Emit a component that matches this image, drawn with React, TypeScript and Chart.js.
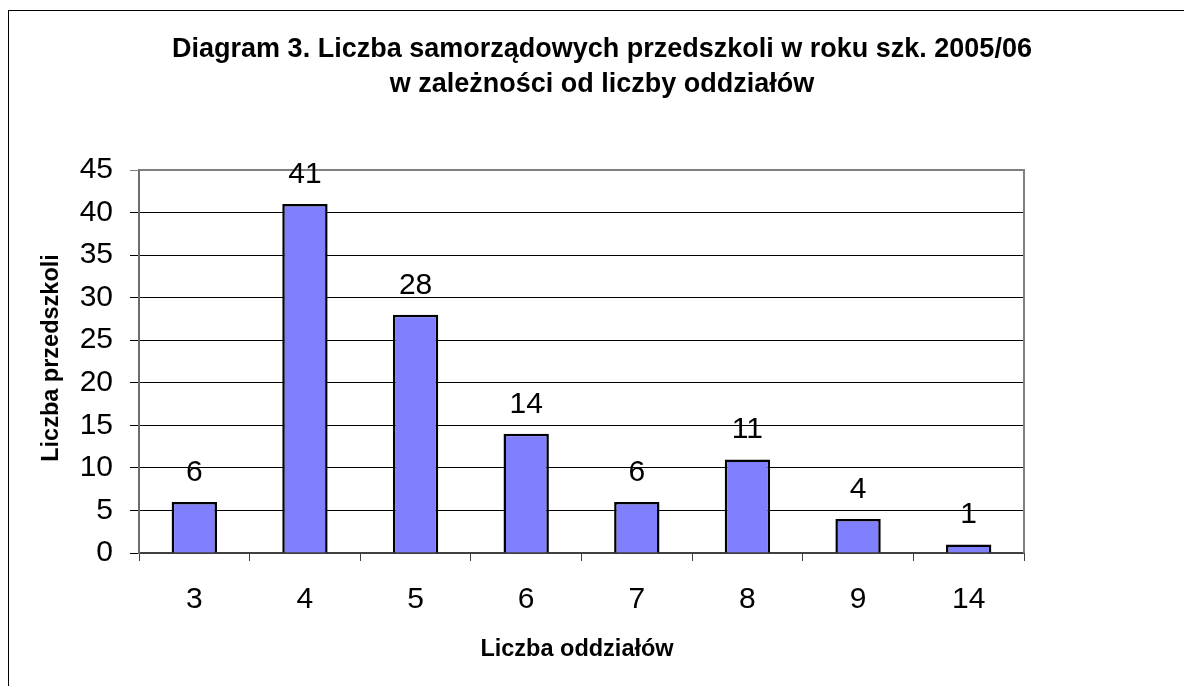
import React, { useEffect, useRef } from "react";
import { Chart, registerables } from "chart.js";

Chart.register(...registerables);

const categories = ["3", "4", "5", "6", "7", "8", "9", "14"];
const values = [6, 41, 28, 14, 6, 11, 4, 1];
const yTicks = [0, 5, 10, 15, 20, 25, 30, 35, 40, 45];
const titleLines = [
  "Diagram 3. Liczba samorządowych przedszkoli w roku szk. 2005/06",
  "w zależności od liczby oddziałów",
];
const xTitle = "Liczba oddziałów";
const yTitle = "Liczba przedszkoli";

const FONT = "'Liberation Sans', Arial, sans-serif";

const decorPlugin = {
  id: "decor",
  beforeDraw(chart: any) {
    const ctx = chart.ctx;
    ctx.save();
    ctx.fillStyle = "#ffffff";
    ctx.fillRect(0, 0, chart.width, chart.height);
    ctx.strokeStyle = "#000000";
    ctx.lineWidth = 1;
    ctx.strokeRect(8.5, 10.5, 1400, 1000);
    ctx.restore();
  },
  afterDraw(chart: any) {
    const ctx = chart.ctx;
    const ca = chart.chartArea;
    ctx.save();
    ctx.strokeStyle = "#808080";
    ctx.lineWidth = 2;
    ctx.beginPath();
    ctx.moveTo(ca.left, ca.top);
    ctx.lineTo(ca.right, ca.top);
    ctx.lineTo(ca.right, ca.bottom);
    ctx.stroke();

    ctx.fillStyle = "#000";
    ctx.textAlign = "center";
    ctx.textBaseline = "alphabetic";
    ctx.font = `bold 27px ${FONT}`;
    ctx.fillText(titleLines[0], 602, 57);
    ctx.fillText(titleLines[1], 602, 92);

    ctx.font = `bold 23.5px ${FONT}`;
    ctx.fillText(xTitle, 577, 656);
    ctx.save();
    ctx.translate(58, 358);
    ctx.rotate(-Math.PI / 2);
    ctx.fillText(yTitle, 0, 0);
    ctx.restore();

    const meta = chart.getDatasetMeta(0);
    ctx.font = `30px ${FONT}`;
    meta.data.forEach((bar: any, i: number) => {
      ctx.fillText(String(values[i]), bar.x, bar.y - 21);
    });
    ctx.restore();
  },
};

export default function App() {
  const ref = useRef<HTMLCanvasElement | null>(null);
  useEffect(() => {
    if (!ref.current) return;
    const chart = new Chart(ref.current, {
      type: "bar",
      data: {
        labels: categories,
        datasets: [
          {
            data: values,
            backgroundColor: "#8080FF",
            borderColor: "#000000",
            borderWidth: 2.5,
            barPercentage: 0.41,
            categoryPercentage: 1,
          },
        ],
      },
      options: {
        responsive: false,
        animation: false,
        layout: { padding: { left: 0, top: 170, right: 160, bottom: 0 } },
        plugins: {
          legend: { display: false },
          title: { display: false },
          tooltip: { enabled: false },
        },
        scales: {
          x: {
            offset: true,
            grid: {
              offset: true,
              drawOnChartArea: false,
              drawTicks: true,
              tickLength: 8,
              color: "#404040",
              lineWidth: 1,
            },
            border: { display: true, color: "#404040", width: 2 },
            ticks: {
              color: "#000",
              font: { family: FONT, size: 30 },
              padding: 21,
              maxRotation: 0,
            },
            afterFit(scale: any) {
              scale.height = 133;
            },
          },
          y: {
            min: 0,
            max: 45,
            afterBuildTicks(scale: any) {
              scale.ticks = yTicks.map((v) => ({ value: v }));
            },
            grid: {
              color: (c: any) => (c.tick && c.tick.value === 45 ? "#808080" : "#000000"),
              lineWidth: 1,
              tickLength: 9,
            },
            border: { display: true, color: "#6e6e6e", width: 2 },
            ticks: {
              color: "#000",
              font: { family: FONT, size: 30 },
              padding: 17,
            },
            afterFit(scale: any) {
              scale.width = 139;
            },
          },
        },
      },
      plugins: [decorPlugin],
    });
    return () => chart.destroy();
  }, []);
  return (
    <div style={{ position: "absolute", left: 0, top: 0, width: 1184, height: 686 }}>
      <canvas ref={ref} width={1184} height={686} />
    </div>
  );
}
